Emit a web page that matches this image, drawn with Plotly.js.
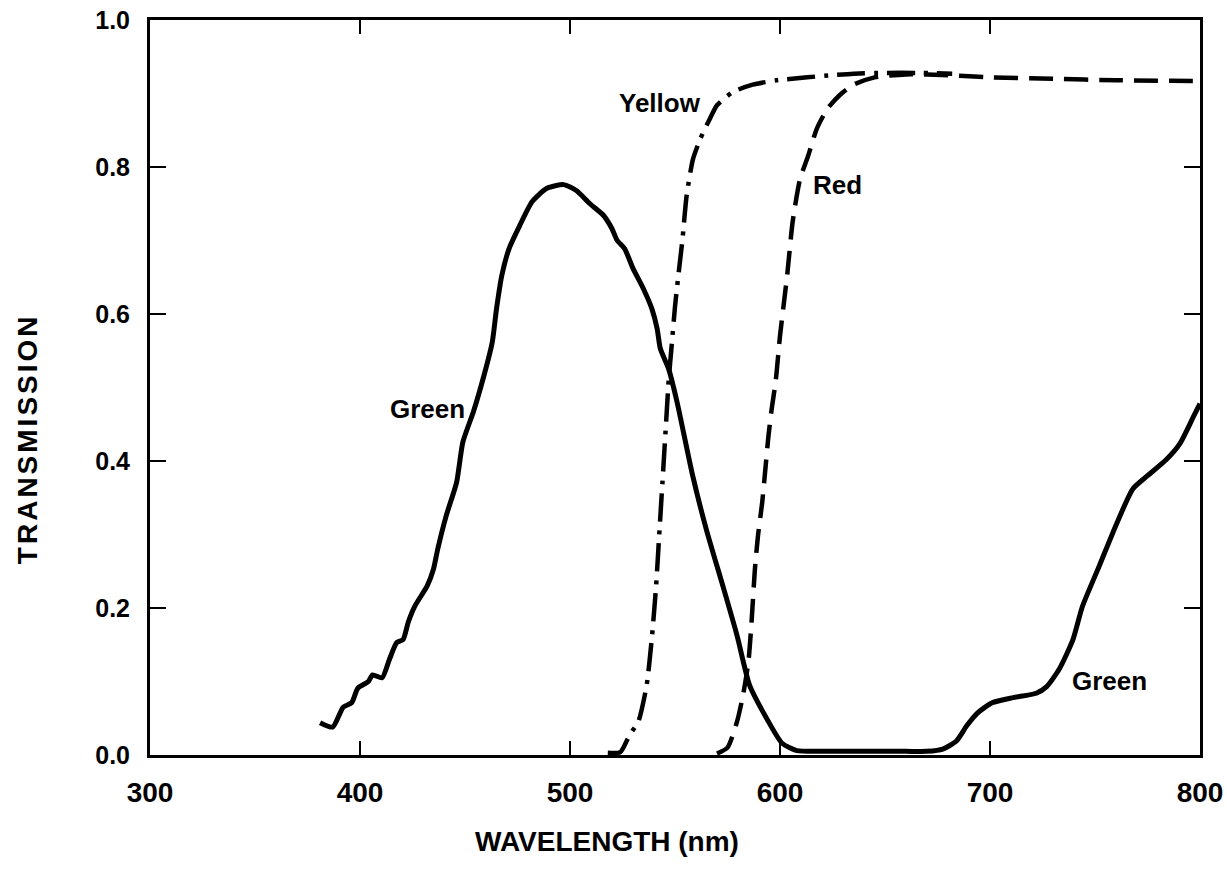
<!DOCTYPE html>
<html>
<head>
<meta charset="utf-8">
<script src="https://cdn.plot.ly/plotly-3.0.1.min.js"></script>
<style>
html,body{margin:0;padding:0;background:#fff;}
#chart{width:1227px;height:869px;}
</style>
</head>
<body>
<div id="chart"></div>
<script>
// Wavelength (nm) and transmission values
const greenWavelength = [381, 387, 392, 396, 399, 404, 406, 410.5, 414, 417.5, 420.5, 423, 426, 432, 435, 437, 441, 446, 449, 454, 459, 463, 465, 467.5, 471, 476, 482, 489, 497, 503, 509.5, 516, 520, 522.5, 526, 530, 535, 539, 541.5, 543, 547, 551, 558.5, 565, 573, 579.5, 585.5, 594, 601, 608, 620, 640, 660, 670, 677.5, 684, 689, 694, 701, 711, 722, 727, 733, 739.5, 744, 752, 760.5, 768, 775, 784, 790.5, 797, 800];
const greenTransmission = [0.044, 0.038, 0.065, 0.071, 0.091, 0.100, 0.109, 0.105, 0.130, 0.153, 0.157, 0.181, 0.202, 0.230, 0.253, 0.280, 0.325, 0.371, 0.426, 0.467, 0.516, 0.562, 0.607, 0.652, 0.689, 0.720, 0.753, 0.771, 0.776, 0.768, 0.750, 0.734, 0.716, 0.700, 0.689, 0.662, 0.634, 0.607, 0.580, 0.553, 0.525, 0.480, 0.379, 0.306, 0.228, 0.163, 0.095, 0.048, 0.016, 0.006, 0.005, 0.005, 0.005, 0.005, 0.008, 0.019, 0.040, 0.057, 0.071, 0.078, 0.084, 0.093, 0.117, 0.157, 0.202, 0.257, 0.316, 0.362, 0.380, 0.402, 0.424, 0.461, 0.478];

const yellowWavelength = [518, 524, 528.5, 532.5, 536.5, 539, 541, 542.5, 544, 545.5, 547, 548.5, 550, 551.5, 553.5, 555.5, 558.5, 562, 566.5, 570, 577.5, 587, 598.5, 613, 625, 635, 650, 665, 682];
const yellowTransmission = [0.003, 0.004, 0.028, 0.045, 0.095, 0.160, 0.230, 0.300, 0.370, 0.440, 0.510, 0.560, 0.610, 0.650, 0.700, 0.760, 0.810, 0.838, 0.865, 0.884, 0.902, 0.912, 0.918, 0.922, 0.925, 0.927, 0.928, 0.928, 0.927];

const redWavelength = [570, 575, 579.5, 582.5, 585, 586.5, 588, 589.5, 591.5, 593, 594.5, 596, 598, 600, 603.5, 606, 609.5, 613.5, 617.5, 622.5, 628.5, 635, 645, 660, 680, 700, 730, 760, 800];
const redTransmission = [0.002, 0.010, 0.045, 0.083, 0.128, 0.183, 0.251, 0.298, 0.343, 0.388, 0.434, 0.470, 0.510, 0.570, 0.655, 0.725, 0.783, 0.816, 0.852, 0.879, 0.898, 0.912, 0.922, 0.926, 0.925, 0.922, 0.920, 0.918, 0.917];

const curveLabels = ["Yellow", "Red", "Green", "Green"];
const labelWavelength = [543, 627.6, 432, 756.7];
const labelTransmission = [0.887, 0.775, 0.471, 0.101];

const xTickValues = [300, 400, 500, 600, 700, 800];
const yTickValues = [0, 0.2, 0.4, 0.6, 0.8, 1.0];

const FONT = 'Liberation Sans, Arial, Helvetica, sans-serif';

const traces = [
  {x: greenWavelength, y: greenTransmission, mode: 'lines', name: 'Green',
   line: {color: '#000', width: 5, shape: 'spline', smoothing: 0.6}},
  {x: yellowWavelength, y: yellowTransmission, mode: 'lines', name: 'Yellow',
   line: {color: '#000', width: 4.5, dash: '28px,9px,4px,9px', shape: 'spline', smoothing: 0.6}},
  {x: redWavelength, y: redTransmission, mode: 'lines', name: 'Red',
   line: {color: '#000', width: 4.5, dash: '24px,11px', shape: 'spline', smoothing: 0.6}}
];

const annotations = curveLabels.map((t, i) => ({
  x: labelWavelength[i], y: labelTransmission[i], xref: 'x', yref: 'y',
  text: t, showarrow: false, xanchor: 'center', yanchor: 'middle',
  font: {family: FONT, size: 26, color: '#000', weight: 700}
}));
annotations.push({
  x: 0.435, y: -0.118, xref: 'paper', yref: 'paper', text: 'WAVELENGTH (nm)',
  showarrow: false, xanchor: 'center', yanchor: 'middle',
  font: {family: FONT, size: 28, color: '#000', weight: 700}
});
annotations.push({
  x: -0.116, y: 0.43, xref: 'paper', yref: 'paper', text: 'TRANSMISSION',
  showarrow: false, xanchor: 'center', yanchor: 'middle', textangle: -90,
  font: {family: FONT, size: 28, color: '#000', weight: 700}
});

const layout = {
  width: 1227, height: 869,
  margin: {l: 150, r: 27, t: 20, b: 114},
  paper_bgcolor: '#fff', plot_bgcolor: '#fff',
  showlegend: false,
  xaxis: {
    range: [300, 800], tickvals: xTickValues, ticktext: xTickValues.map(String),
    showgrid: false, zeroline: false, showline: true, linecolor: '#000', linewidth: 3,
    mirror: 'ticks', ticks: 'inside', ticklen: 14, tickwidth: 2.5, tickcolor: '#000',
    ticklabelstandoff: 10,
    tickfont: {family: FONT, size: 28, color: '#000', weight: 700}
  },
  yaxis: {
    range: [0, 1], tickvals: yTickValues, ticktext: yTickValues.map(v => v.toFixed(1)),
    showgrid: false, zeroline: false, showline: true, linecolor: '#000', linewidth: 3,
    mirror: 'ticks', ticks: 'inside', ticklen: 16, tickwidth: 2.5, tickcolor: '#000',
    ticklabelstandoff: 12,
    tickfont: {family: FONT, size: 25, color: '#000', weight: 700}
  },
  annotations: annotations
};

Plotly.newPlot('chart', traces, layout, {staticPlot: true, displayModeBar: false}).then(() => {
  document.querySelectorAll('.annotation-text').forEach(el => {
    if (el.textContent === 'TRANSMISSION') el.style.letterSpacing = '3px';
  });
});
</script>
</body>
</html>
